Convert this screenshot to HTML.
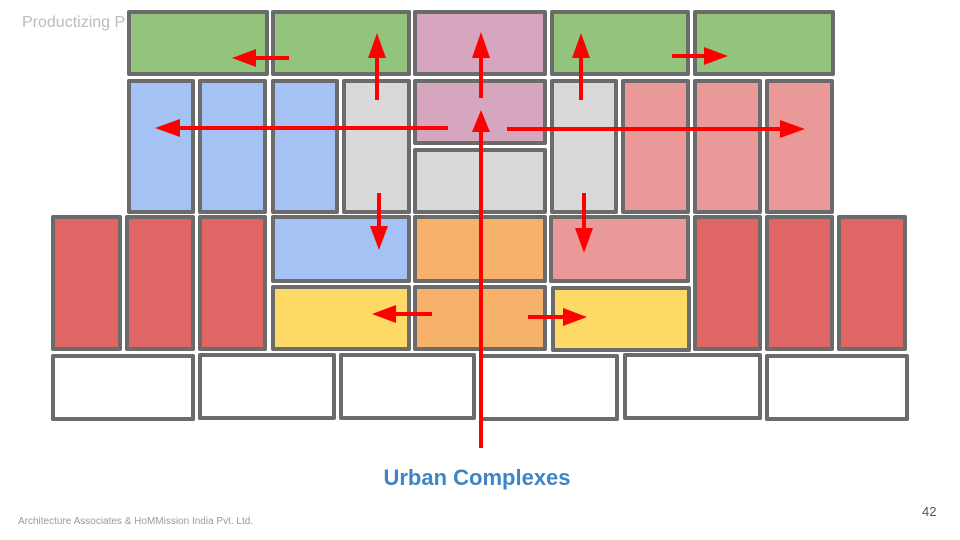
<!DOCTYPE html>
<html><head><meta charset="utf-8"><style>
body{margin:0;background:#fff;}
svg{display:block;}
</style></head><body>
<svg width="960" height="540" viewBox="0 0 960 540" xmlns="http://www.w3.org/2000/svg">
<text x="22" y="27" font-family="Liberation Sans, sans-serif" font-size="16" fill="#bbbbbb">Productizing P</text>
<g stroke="#6b6b6b" stroke-width="4" stroke-linejoin="round">
<rect x="129" y="12" width="138" height="62" fill="#93c47d"/>
<rect x="273" y="12" width="136" height="62" fill="#93c47d"/>
<rect x="415" y="12" width="130" height="62" fill="#d5a6bd"/>
<rect x="552" y="12" width="136" height="62" fill="#93c47d"/>
<rect x="695" y="12" width="138" height="62" fill="#93c47d"/>
<rect x="129" y="81" width="64" height="131" fill="#a4c2f4"/>
<rect x="200" y="81" width="65" height="131" fill="#a4c2f4"/>
<rect x="273" y="81" width="64" height="131" fill="#a4c2f4"/>
<rect x="344" y="81" width="65" height="131" fill="#d9d9d9"/>
<rect x="415" y="81" width="130" height="62" fill="#d5a6bd"/>
<rect x="415" y="150" width="130" height="62" fill="#d9d9d9"/>
<rect x="552" y="81" width="64" height="131" fill="#d9d9d9"/>
<rect x="623" y="81" width="65" height="131" fill="#ea9999"/>
<rect x="695" y="81" width="65" height="131" fill="#ea9999"/>
<rect x="767" y="81" width="65" height="131" fill="#ea9999"/>
<rect x="53" y="217" width="67" height="132" fill="#e06666"/>
<rect x="127" y="217" width="66" height="132" fill="#e06666"/>
<rect x="200" y="217" width="65" height="132" fill="#e06666"/>
<rect x="273" y="217" width="136" height="64" fill="#a4c2f4"/>
<rect x="273" y="287" width="136" height="62" fill="#ffd966"/>
<rect x="415" y="217" width="130" height="64" fill="#f6b26b"/>
<rect x="415" y="287" width="130" height="62" fill="#f6b26b"/>
<rect x="551" y="217" width="137" height="64" fill="#ea9999"/>
<rect x="553" y="288" width="136" height="62" fill="#ffd966"/>
<rect x="695" y="217" width="65" height="132" fill="#e06666"/>
<rect x="767" y="217" width="65" height="132" fill="#e06666"/>
<rect x="839" y="217" width="66" height="132" fill="#e06666"/>
<rect x="53" y="356" width="140" height="63" fill="#fff"/>
<rect x="200" y="355" width="134" height="63" fill="#fff"/>
<rect x="341" y="355" width="133" height="63" fill="#fff"/>
<rect x="481" y="356" width="136" height="63" fill="#fff"/>
<rect x="625" y="355" width="135" height="63" fill="#fff"/>
<rect x="767" y="356" width="140" height="63" fill="#fff"/>
</g>
<g stroke="#ff0000" stroke-width="4" fill="none">
<line x1="481" y1="448" x2="481" y2="120"/>
<line x1="481" y1="98" x2="481" y2="42"/>
<line x1="289" y1="58" x2="245" y2="58"/>
<line x1="377" y1="100" x2="377" y2="46"/>
<line x1="581" y1="100" x2="581" y2="46"/>
<line x1="672" y1="56" x2="712" y2="56"/>
<line x1="448" y1="128" x2="170" y2="128"/>
<line x1="507" y1="129" x2="790" y2="129"/>
<line x1="379" y1="193" x2="379" y2="236"/>
<line x1="584" y1="193" x2="584" y2="238"/>
<line x1="432" y1="314" x2="386" y2="314"/>
<line x1="528" y1="317" x2="572" y2="317"/>
</g>
<g fill="#ff0000">
<polygon points="481,110 472,132 490,132"/>
<polygon points="481,32 472,58 490,58"/>
<polygon points="232,58 256,49 256,67"/>
<polygon points="377,33 368,58 386,58"/>
<polygon points="581,33 572,58 590,58"/>
<polygon points="728,56 704,47 704,65"/>
<polygon points="155,128 180,119 180,137"/>
<polygon points="805,129 780,120 780,138"/>
<polygon points="379,250 370,226 388,226"/>
<polygon points="584,253 575,228 593,228"/>
<polygon points="372,314 396,305 396,323"/>
<polygon points="587,317 563,308 563,326"/>
</g>
<text x="477" y="485" text-anchor="middle" font-family="Liberation Sans, sans-serif" font-size="22" font-weight="bold" fill="#3d85c6">Urban Complexes</text>
<text x="18" y="524" font-family="Liberation Sans, sans-serif" font-size="10" fill="#9a9a9a">Architecture Associates &amp; HoMMission India Pvt. Ltd.</text>
<text x="922" y="516" font-family="Liberation Sans, sans-serif" font-size="13" fill="#555">42</text>
</svg>
</body></html>
